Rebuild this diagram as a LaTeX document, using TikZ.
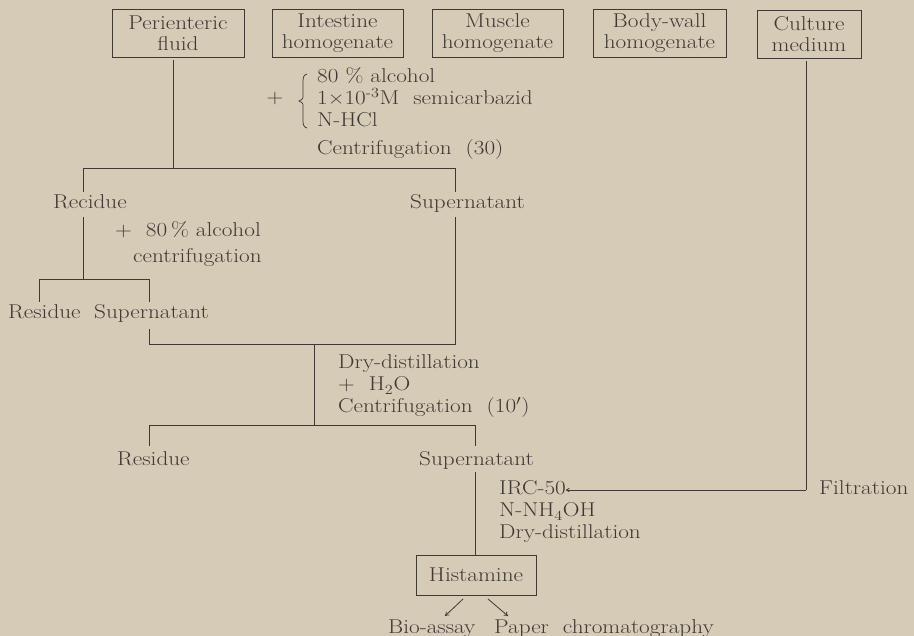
\documentclass[tikz,border=0pt]{standalone}
\usetikzlibrary{arrows.meta}
\definecolor{paper}{RGB}{214,203,183}
\definecolor{ink}{RGB}{62,57,52}
\newcommand\W[1]{\scalebox{1.16}[1]{#1}}
\begin{document}
\begin{tikzpicture}[x=1pt,y=-1pt,
  every node/.style={font=\fontsize{20}{21}\selectfont, text=ink, inner sep=0pt},
  ln/.style={draw=ink, line width=0.8pt},
  arr/.style={draw=ink, line width=0.8pt, -{To[length=4pt,width=5pt]}},
  box/.style={draw=ink, line width=0.7pt, align=center, minimum height=48pt},
  lbl/.style={anchor=base west}]
\useasboundingbox[fill=paper] (0,0) rectangle (914,636);

% source boxes
\node[box, minimum width=132pt] (b1) at (178,33) {\W{Perienteric}\\\W{fluid}};
\node[box, minimum width=131pt] (b2) at (337.5,33) {\W{Intestine}\\\W{homogenate}};
\node[box, minimum width=131pt] (b3) at (497.5,33) {\W{Muscle}\\\W{homogenate}};
\node[box, minimum width=133pt] (b4) at (659.5,33) {\W{Body-wall}\\\W{homogenate}};
\node[box, minimum width=104pt] (b5) at (809,34) {\W{Culture}\\\W{medium}};

% reagents (first step)
\node (plus1) at (275,99) {\W{+}};
\draw[ln, line width=0.7pt] (307,74) .. controls (303,75) and (303,78) .. (303,84) -- (303,95)
  .. controls (303,99) .. (299,101) .. controls (303,103) .. (303,107) -- (303,118)
  .. controls (303,124) and (303,127) .. (307,128);
\node[lbl] (r1) at (317,83) {\W{80~\% alcohol}};
\node[lbl] (r2) at (317,105) {\W{1\texttimes10\textsuperscript{-3}M~ semicarbazid}};
\node[lbl] (r3) at (317,127) {\W{N-HCl}};
\node[lbl] (r4) at (317,155) {\W{Centrifugation~ (30)}};

% first split
\coordinate (j1) at (173,168);
\coordinate (s1l) at (83,168);
\coordinate (s1r) at (455,168);
\draw[ln] (j1 |- b1.south) ++(0,3) -- (j1);
\draw[ln] (83,192) -- (s1l) -- (s1r) -- (455,192);
\node[lbl] (rec) at (53,209) {\W{Recidue}};
\node[lbl] (sup1) at (410,209) {\W{Supernatant}};

% second step on residue
\node[lbl] (r5) at (115,237) {\W{+~~80\,\% alcohol}};
\node[lbl] (r6) at (133,263) {\W{centrifugation}};
\coordinate (s2l) at (39,279);
\coordinate (s2r) at (149,279);
\draw[ln] (83,217) -- (83,279);
\draw[ln] (39,302) -- (s2l) -- (s2r) -- (149,302);
\node[lbl] (res2) at (8,319) {\W{Residue}};
\node[lbl] (sup2) at (94,319) {\W{Supernatant}};

% merge supernatants
\coordinate (m1) at (149,344);
\coordinate (m2) at (455,344);
\draw[ln] (149,329) -- (m1) -- (m2) -- (455,217);

% dry-distillation
\coordinate (j2) at (314,344);
\coordinate (j3) at (314,425);
\draw[ln] (j2) -- (j3);
\node[lbl] (d1) at (338,369) {\W{Dry-distillation}};
\node[lbl] (d2) at (338,391) {\W{+~ H\textsubscript{2}O}};
\node[lbl] (d3) at (338,413) {\W{Centrifugation~ (10$'$)}};
\coordinate (s3l) at (149,425);
\coordinate (s3r) at (475,425);
\draw[ln] (149,446) -- (s3l) -- (s3r) -- (475,446);
\node[lbl] (res3) at (117,466) {\W{Residue}};
\node[lbl] (sup3) at (419,466) {\W{Supernatant}};

% ion exchange
\node[lbl] (irc) at (499,495) {\W{IRC-50}};
\node[lbl] (nh) at (499,517) {\W{N-NH\textsubscript{4}OH}};
\node[lbl] (dd) at (499,539) {\W{Dry-distillation}};
\node[lbl] (filt) at (819,495) {\W{Filtration}};

% histamine
\node[draw=ink, line width=0.7pt, minimum width=120pt, minimum height=40pt] (hist) at (476,575) {\W{Histamine}};
\draw[ln] (475,472) -- (hist.north -| 475,0);

% culture medium line
\coordinate (c1) at (806,490);
\draw[ln] (c1 |- b5.south) ++(0,3) -- (c1);
\draw[draw=ink, line width=0.8pt, -{To[length=3.5pt,width=4pt]}] (c1) -- (irc.east |- c1);

% outputs
\node[lbl] (bio) at (388,633) {\W{Bio-assay}};
\node[lbl] (pap) at (494,633) {\W{Paper~ chromatography}};
\draw[arr] (463,599) -- (445,616);
\draw[arr] (488,599) -- (508,616);
\end{tikzpicture}
\end{document}
